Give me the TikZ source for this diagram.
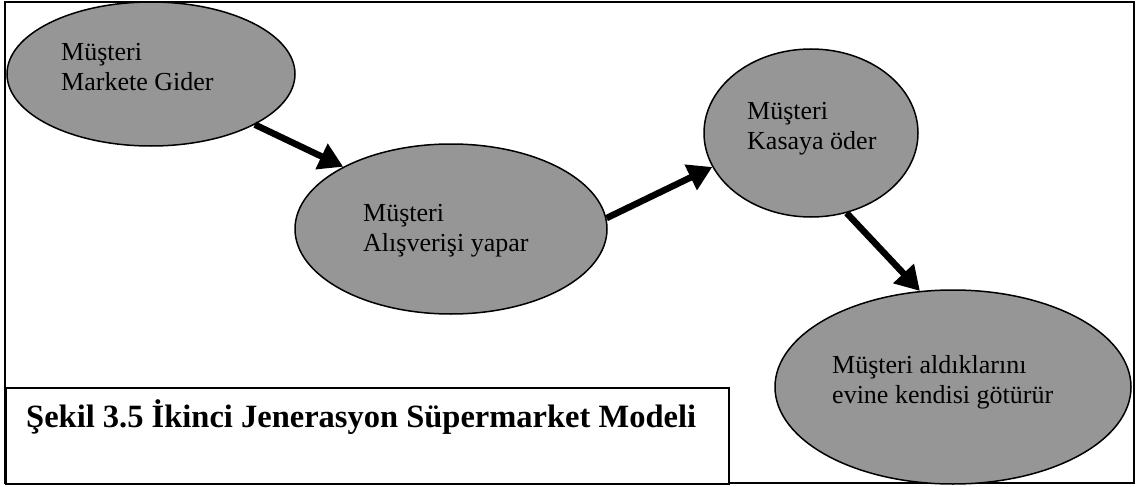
\documentclass[tikz,border=0pt]{standalone}
\usepackage{fontspec}
\setmainfont{Liberation Serif}
\usetikzlibrary{arrows.meta,shapes.geometric}
\definecolor{fillgray}{RGB}{150,150,150}
\begin{document}
\begin{tikzpicture}[x=1pt,y=-1pt,
  bubble/.style={ellipse, draw=black, line width=1.5pt, fill=fillgray, inner sep=0pt},
  txt/.style={anchor=base west, align=left, inner sep=0pt, font=\fontsize{26}{30}\selectfont},
  flow/.style={line width=6.5pt, -{Triangle[length=24pt,width=27pt]}},
  frame/.style={draw=black, line width=1.5pt}
]
\useasboundingbox (0,0) rectangle (1138,487);
\draw[frame] (5,2) rectangle (1134,483);
\node[bubble, minimum width=288pt, minimum height=144pt] (e1) at (151,74) {};
\node[bubble, minimum width=312pt, minimum height=170pt] (e2) at (451,229) {};
\node[bubble, minimum width=214pt, minimum height=168pt] (e3) at (811,133) {};
\node[bubble, minimum width=356pt, minimum height=194pt] (e4) at (953,387) {};
\node[txt] (t1) at (61,91) {Müşteri\\Markete Gider};
\node[txt] (t2) at (363,251) {Müşteri\\Alışverişi yapar};
\node[txt] (t3) at (747,149) {Müşteri\\Kasaya öder};
\node[txt] (t4) at (832,403) {Müşteri aldıklarını\\evine kendisi götürür};
\draw[flow] (e1.-26) -- (e2.150);
\draw[flow] (e2.4) -- (e3.199);
\draw[flow] (e3.-66) -- (e4.109);
\node[frame, fill=white, minimum width=723pt, minimum height=96pt, anchor=north west, inner sep=0pt] (capbox) at (5,387) {};
\node[anchor=base west, inner sep=0pt, font=\fontsize{32.5}{38}\selectfont\bfseries] (cap) at (26,427) {Şekil 3.5 İkinci Jenerasyon Süpermarket Modeli};
\end{tikzpicture}
\end{document}
